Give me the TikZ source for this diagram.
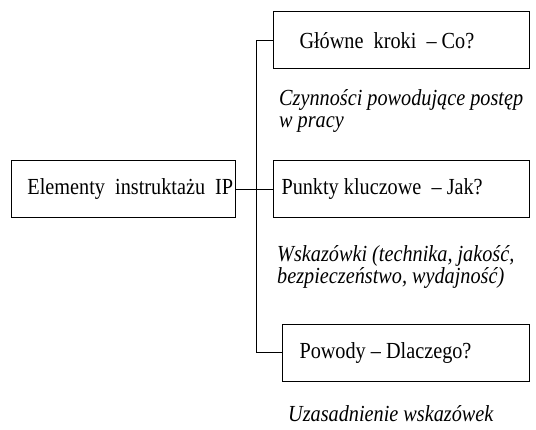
\documentclass[tikz,border=0pt]{standalone}
\usepackage{fontspec}
\setmainfont{Liberation Serif}[FakeStretch=0.88]
\begin{document}
\begin{tikzpicture}[x=1pt, y=-1pt]
	\tikzstyle{box}  = [draw=black, line width=1pt, minimum height=57pt, anchor=west, inner xsep=0pt, font=\fontsize{23}{24}\selectfont]
	\tikzstyle{note} = [anchor=base west, inner sep=0pt, align=left, font=\fontsize{23}{22}\selectfont\itshape]

	\useasboundingbox (0,0) rectangle (536,430);

	% pudelka: nazwa/lewy brzeg/srodek y/szerokosc/wciecie tekstu/tekst
	\foreach \name/\x/\y/\w/\pad/\txt in {main/11/189.5/224/16/Elementy\ \ instruktażu\ \ IP, kroki/273/40.5/256/26/Główne\ \ kroki\ \ – Co?, punkty/273/189.5/256/8/Punkty kluczowe\ \ – Jak?, powody/282/353/247/17/Powody – Dlaczego?}
		\node[box, minimum width=\w pt] (\name) at (\x, \y) {\makebox[\w pt][l]{\hspace{\pad pt}\txt}};

	\node[note] (czynnosci) at (279, 128) {Czynności powodujące postęp\\w pracy};
	\node[note] (wskazowki) at (277, 284) {Wskazówki (technika, jakość,\\bezpieczeństwo, wydajność)};
	\node[note] (uzasadnienie) at (288, 422) {Uzasadnienie wskazówek};

	\draw[line width=1pt] (main.east) -- (punkty.west);
	\draw[line width=1pt] (kroki.west) -- ++(-17,0) |- (powody.west);
\end{tikzpicture}
\end{document}
